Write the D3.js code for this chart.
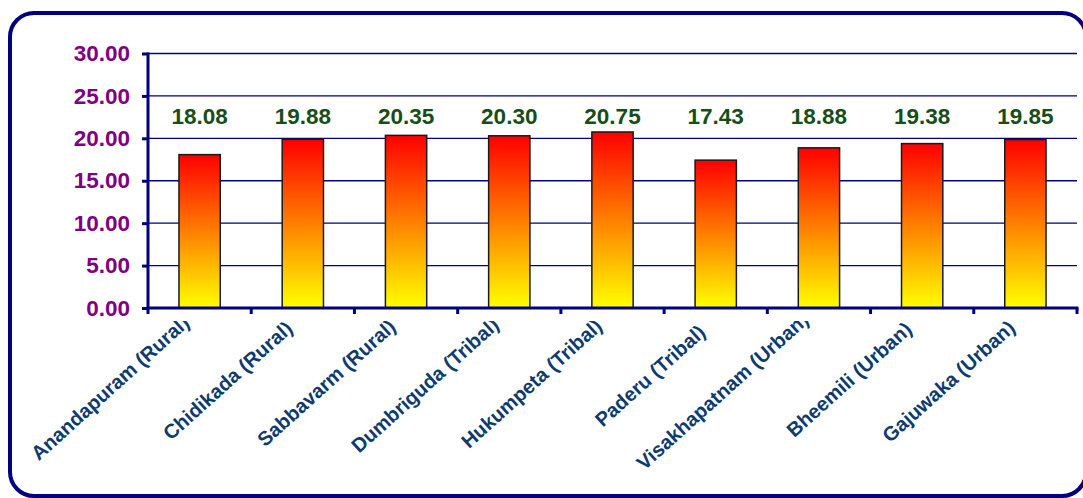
<!DOCTYPE html>
<html>
<head>
<meta charset="utf-8">
<script src="https://cdn.jsdelivr.net/npm/d3@7"></script>
<style>
  body { margin: 0; background: #fff; }
  svg { display: block; font-family: "Liberation Sans", Arial, sans-serif; }
</style>
</head>
<body>
<svg id="chart" width="1083" height="498"></svg>
<script>
// data
var places = ["Anandapuram (Rural)", "Chidikada (Rural)", "Sabbavarm (Rural)", "Dumbriguda (Tribal)",
              "Hukumpeta (Tribal)", "Paderu (Tribal)", "Visakhapatnam (Urban)", "Bheemili (Urban)", "Gajuwaka (Urban)"];
var values = [18.08, 19.88, 20.35, 20.30, 20.75, 17.43, 18.88, 19.38, 19.85];
var yTicks = [0, 5, 10, 15, 20, 25, 30];

var svg = d3.select("#chart");
var plotLeft = 148, plotRight = 1077, plotTop = 53.5, plotBottom = 308;

// frame
svg.append("rect")
  .attr("x", 10).attr("y", 13)
  .attr("width", 1076).attr("height", 483)
  .attr("rx", 24).attr("ry", 24)
  .attr("fill", "#fff")
  .attr("stroke", "#000080")
  .attr("stroke-width", 4);

var defs = svg.append("defs");
var grad = defs.append("linearGradient").attr("id", "barGrad")
  .attr("x1", 0).attr("y1", 0).attr("x2", 0).attr("y2", 1);
grad.append("stop").attr("offset", "0%").attr("stop-color", "#ff0000");
grad.append("stop").attr("offset", "100%").attr("stop-color", "#ffff00");

// category labels get cut at the top like in the original
defs.append("clipPath").attr("id", "labelClip")
  .append("rect").attr("x", 0).attr("y", 321).attr("width", 1083).attr("height", 177);

var x = d3.scaleBand().domain(places).range([plotLeft, plotRight]).paddingInner(0.6).paddingOuter(0.3);
var y = d3.scaleLinear().domain([0, 30]).range([plotBottom, plotTop]);

// gridlines
svg.append("g").selectAll("line").data(yTicks.filter(function(d){ return d > 0; }))
  .enter().append("line")
  .attr("x1", plotLeft).attr("x2", plotRight)
  .attr("y1", function(d){ return y(d); }).attr("y2", function(d){ return y(d); })
  .attr("stroke", "#000080").attr("stroke-width", 1.3);

// bars
svg.append("g").selectAll("rect").data(values).enter().append("rect")
  .attr("x", function(d, i){ return x(places[i]); })
  .attr("y", function(d){ return y(d); })
  .attr("width", x.bandwidth())
  .attr("height", function(d){ return y(0) - y(d); })
  .attr("fill", "url(#barGrad)")
  .attr("stroke", "#1a1a1a")
  .attr("stroke-width", 1.5);

// value labels
svg.append("g").selectAll("text").data(values).enter().append("text")
  .attr("x", function(d, i){ return x(places[i]) + x.bandwidth() / 2; })
  .attr("y", 124)
  .attr("text-anchor", "middle")
  .attr("font-size", "22.5px").attr("font-weight", "bold")
  .attr("fill", "#174d17")
  .text(function(d){ return d.toFixed(2); });

// y axis
var yAxis = svg.append("g").attr("transform", "translate(" + plotLeft + ",0)")
  .call(d3.axisLeft(y).tickValues(yTicks).tickSize(6).tickPadding(12)
    .tickFormat(function(d){ return d.toFixed(2); }));
yAxis.select(".domain").remove();
yAxis.selectAll(".tick line").attr("stroke", "#000080").attr("stroke-width", 3);
yAxis.selectAll(".tick text")
  .attr("font-size", "22.5px").attr("font-weight", "bold")
  .attr("font-family", "Liberation Sans, Arial, sans-serif")
  .attr("fill", "#800080");
yAxis.append("line").attr("x1", 0).attr("x2", 0).attr("y1", plotTop - 1).attr("y2", plotBottom + 1.5)
  .attr("stroke", "#000080").attr("stroke-width", 3);

// x axis
var step = x.step();
var xg = svg.append("g");
xg.append("line").attr("x1", plotLeft - 1.5).attr("x2", plotRight + 1.5)
  .attr("y1", plotBottom).attr("y2", plotBottom)
  .attr("stroke", "#000080").attr("stroke-width", 3);
xg.selectAll("line.tk").data(d3.range(places.length + 1)).enter().append("line")
  .attr("class", "tk")
  .attr("x1", function(i){ return plotLeft + i * step; })
  .attr("x2", function(i){ return plotLeft + i * step; })
  .attr("y1", plotBottom).attr("y2", plotBottom + 6)
  .attr("stroke", "#000080").attr("stroke-width", 3);

var xLabels = xg.append("g").attr("clip-path", "url(#labelClip)")
  .selectAll("text").data(places).enter().append("text")
  .attr("text-anchor", "end")
  .attr("font-size", "20px").attr("font-weight", "bold")
  .attr("fill", "#0d3b6e")
  .text(function(d){ return d; });

// longer labels sit a bit higher, so their ends get clipped
xLabels.attr("transform", function(d){
  var len = this.getComputedTextLength();
  var ey = 334 - 0.15 * (len - 141);
  return "translate(" + (x(d) + x.bandwidth() / 2 - 9) + "," + ey + ") rotate(-42)";
});
</script>
</body>
</html>
